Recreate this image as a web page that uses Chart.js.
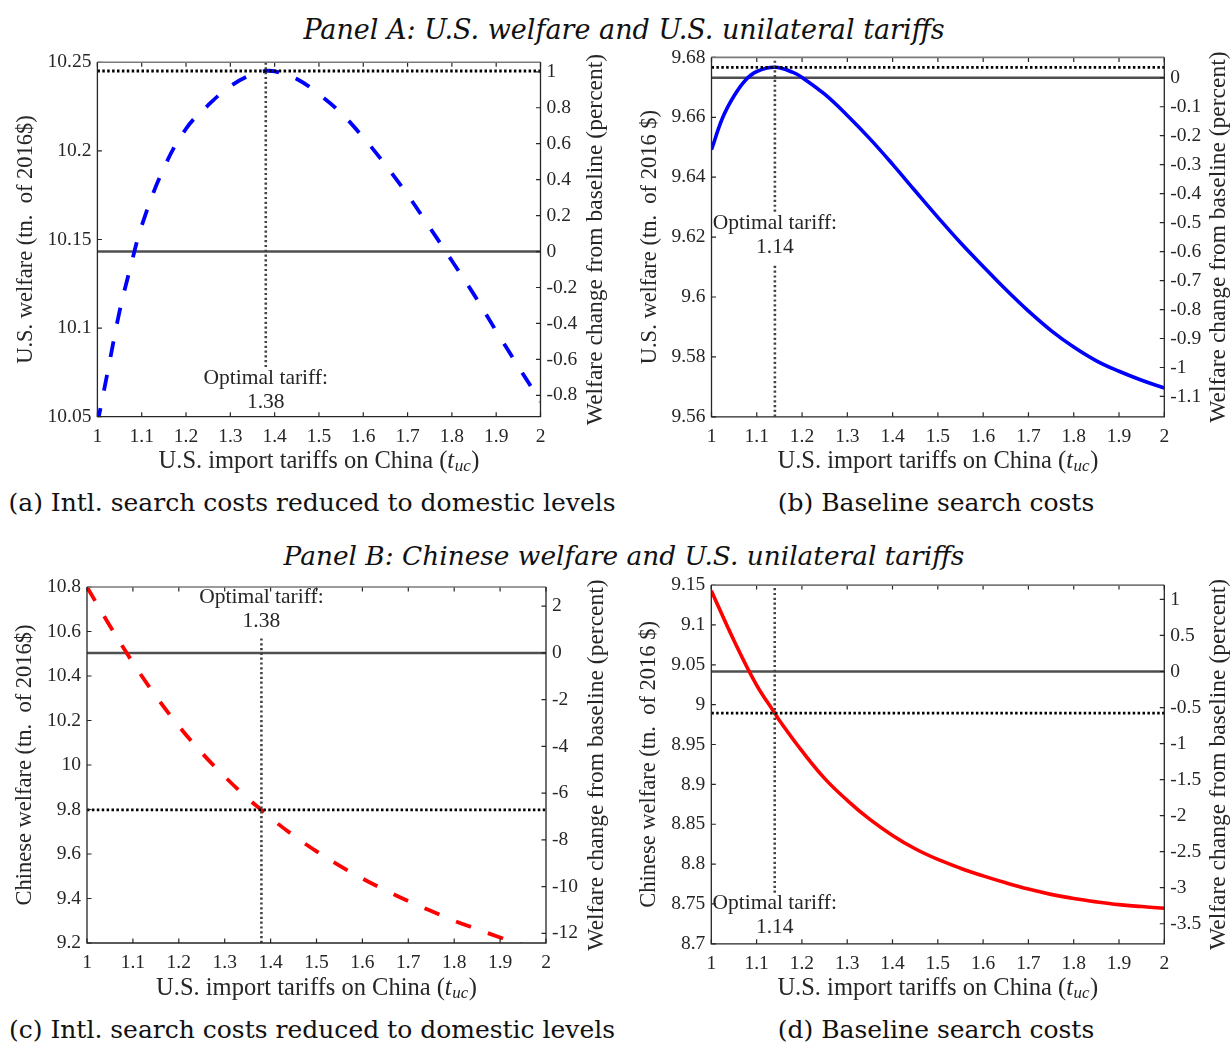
<!DOCTYPE html>
<html>
<head>
<meta charset="utf-8">
<script src="https://cdn.jsdelivr.net/npm/chart.js@4.4.0/dist/chart.umd.min.js"></script>
<style>
  body { margin: 0; background: #fff; width: 1232px; height: 1045px; position: relative; overflow: hidden; }
  .pane { position: absolute; }
  .head { position: absolute; left: 8px; width: 1232px; text-align: center; font-family: "DejaVu Serif", serif;
          font-style: italic; line-height: 30px; color: #111; }
  .cap { position: absolute; width: 624px; text-align: center; font-family: "DejaVu Serif", serif;
         font-size: 25px; line-height: 30px; color: #111; }
</style>
</head>
<body>
<div class="head" style="top:15px;font-size:27px">Panel A: U.S. welfare and U.S. unilateral tariffs</div>
<div class="cap" style="left:0;top:488px">(a) Intl. search costs reduced to domestic levels</div>
<div class="cap" style="left:624px;top:488px">(b) Baseline search costs</div>
<div class="head" style="top:541px;font-size:26.4px">Panel B: Chinese welfare and U.S. unilateral tariffs</div>
<div class="cap" style="left:0;top:1015px">(c) Intl. search costs reduced to domestic levels</div>
<div class="cap" style="left:624px;top:1015px">(d) Baseline search costs</div>

<div class="pane" style="left:0;top:35px"><canvas id="chartA" width="620" height="450"></canvas></div>
<div class="pane" style="left:620px;top:35px"><canvas id="chartB" width="612" height="450"></canvas></div>
<div class="pane" style="left:0;top:560px"><canvas id="chartC" width="620" height="450"></canvas></div>
<div class="pane" style="left:620px;top:560px"><canvas id="chartD" width="612" height="450"></canvas></div>

<script>
// ---- data -------------------------------------------------------------
const xTicks = [1, 1.1, 1.2, 1.3, 1.4, 1.5, 1.6, 1.7, 1.8, 1.9, 2];

// (a) U.S. welfare, intl. search costs at domestic levels
const tariffA = [1.00, 1.025, 1.05, 1.075, 1.10, 1.15, 1.20, 1.25, 1.30, 1.35, 1.38, 1.40,
                 1.45, 1.50, 1.55, 1.60, 1.65, 1.70, 1.75, 1.80, 1.85, 1.90, 1.95, 2.00];
const welfareA = [10.046, 10.0777, 10.1094, 10.1347, 10.1578, 10.1903, 10.2125, 10.2258, 10.2365, 10.2433, 10.2451, 10.2449,
                  10.2406, 10.2320, 10.2213, 10.2076, 10.1921, 10.1752, 10.1568, 10.1380, 10.1189, 10.0983, 10.0783, 10.0585];
const baselineA = 10.1432;
const optimalA = 1.38;
const leftTicksA = [10.05, 10.1, 10.15, 10.2, 10.25];
const rightTicksA = [-0.8, -0.6, -0.4, -0.2, 0, 0.2, 0.4, 0.6, 0.8, 1];

// (b) U.S. welfare, baseline search costs
const tariffB = [1.00, 1.025, 1.05, 1.075, 1.10, 1.14, 1.18, 1.20, 1.25, 1.30, 1.35, 1.40,
                 1.45, 1.50, 1.55, 1.60, 1.65, 1.70, 1.75, 1.80, 1.85, 1.90, 1.95, 2.00];
const welfareB = [9.6492, 9.6600, 9.6672, 9.6724, 9.6753, 9.6767, 9.6750, 9.6733, 9.6677, 9.6606, 9.6528, 9.6443,
                  9.6354, 9.6266, 9.6181, 9.6102, 9.6025, 9.5953, 9.5888, 9.5833, 9.5787, 9.5752, 9.5722, 9.5696];
const baselineB = 9.6732;
const optimalB = 1.14;
const leftTicksB = [9.56, 9.58, 9.6, 9.62, 9.64, 9.66, 9.68];
const rightTicksB = [-1.1, -1, -0.9, -0.8, -0.7, -0.6, -0.5, -0.4, -0.3, -0.2, -0.1, 0];

// (c) Chinese welfare, intl. search costs at domestic levels
const tariffC = [1.00, 1.05, 1.10, 1.15, 1.20, 1.25, 1.30, 1.35, 1.38, 1.40, 1.45,
                 1.50, 1.55, 1.60, 1.65, 1.70, 1.75, 1.80, 1.85, 1.90, 1.95, 2.00];
const welfareC = [10.80, 10.625, 10.46, 10.31, 10.175, 10.055, 9.948, 9.85, 9.798, 9.762, 9.683,
                  9.612, 9.548, 9.49, 9.437, 9.388, 9.344, 9.300, 9.262, 9.225, 9.19, 9.157];
const baselineC = 10.5038;
const optimalC = 1.38;
const leftTicksC = [9.2, 9.4, 9.6, 9.8, 10, 10.2, 10.4, 10.6, 10.8];
const rightTicksC = [-12, -10, -8, -6, -4, -2, 0, 2];

// (d) Chinese welfare, baseline search costs
const tariffD = [1.00, 1.05, 1.10, 1.14, 1.15, 1.20, 1.25, 1.30, 1.35, 1.40, 1.45,
                 1.50, 1.55, 1.60, 1.65, 1.70, 1.75, 1.80, 1.85, 1.90, 1.95, 2.00];
const welfareD = [9.143, 9.0805, 9.0245, 8.9895, 8.9805, 8.9420, 8.9075, 8.8800, 8.8560, 8.8360, 8.8192,
                  8.8058, 8.7948, 8.7852, 8.7765, 8.7686, 8.7620, 8.7568, 8.7526, 8.7491, 8.7467, 8.7446];
const baselineD = 9.0416;
const optimalD = 1.14;
const leftTicksD = [8.7, 8.75, 8.8, 8.85, 8.9, 8.95, 9, 9.05, 9.1, 9.15];
const rightTicksD = [-3.5, -3, -2.5, -2, -1.5, -1, -0.5, 0, 0.5, 1];

// ---- drawing helpers ----------------------------------------------------
const SERIF = '"Liberation Serif", serif';
const INK = '#262626';
Chart.defaults.font.family = SERIF;
Chart.defaults.color = INK;

const fmt = v => String(Math.round(v * 1000) / 1000);
const pts = (xs, ys) => xs.map((x, i) => ({ x: x, y: ys[i] }));

// box, inward tick marks, axis titles and the optimal-tariff note
const framePlugin = {
  id: 'frame',
  afterDraw(chart, args, o) {
    const { ctx, chartArea: a, scales } = chart;
    const tl = 4.5;
    ctx.save();
    ctx.lineWidth = 1.2;
    ctx.strokeStyle = INK;
    ctx.beginPath();
    scales.x.ticks.forEach(t => {
      const px = scales.x.getPixelForValue(t.value);
      ctx.moveTo(px, a.bottom); ctx.lineTo(px, a.bottom - tl);
      ctx.moveTo(px, a.top); ctx.lineTo(px, a.top + tl);
    });
    scales.y.ticks.forEach(t => {
      const py = scales.y.getPixelForValue(t.value);
      ctx.moveTo(a.left, py); ctx.lineTo(a.left + tl, py);
    });
    scales.y2.ticks.forEach(t => {
      const py = scales.y2.getPixelForValue(t.value);
      ctx.moveTo(a.right, py); ctx.lineTo(a.right - tl, py);
    });
    ctx.stroke();
    // top edge gray, left/right axes and bottom dark
    ctx.strokeStyle = '#7a7a7a';
    ctx.lineWidth = 1.6;
    ctx.beginPath();
    ctx.moveTo(a.left, a.top); ctx.lineTo(a.right, a.top);
    ctx.stroke();
    ctx.strokeStyle = INK;
    ctx.lineWidth = 1.3;
    ctx.beginPath();
    ctx.moveTo(a.left, a.top); ctx.lineTo(a.left, a.bottom); ctx.lineTo(a.right, a.bottom); ctx.lineTo(a.right, a.top);
    ctx.stroke();

    ctx.fillStyle = INK;
    // x title with italic subscript
    const cx = (a.left + a.right) / 2, cy = a.bottom + o.xTitleDy;
    const main = 'U.S. import tariffs on China (';
    const big = '24.5px ' + SERIF, bigIt = 'italic 24.5px ' + SERIF, sub = 'italic 17px ' + SERIF;
    ctx.textBaseline = 'middle';
    ctx.font = big;
    const w1 = ctx.measureText(main).width, w4 = ctx.measureText(')').width;
    ctx.font = bigIt;
    const w2 = ctx.measureText('t').width;
    ctx.font = sub;
    const w3 = ctx.measureText('uc').width;
    let x = cx - (w1 + w2 + w3 + w4 + 1) / 2;
    ctx.textAlign = 'left';
    ctx.font = big; ctx.fillText(main, x, cy); x += w1;
    ctx.font = bigIt; ctx.fillText('t', x, cy); x += w2 + 0.5;
    ctx.font = sub; ctx.fillText('uc', x, cy + 5); x += w3 + 0.5;
    ctx.font = big; ctx.fillText(')', x, cy);

    // rotated y titles, both reading bottom to top
    const my = (a.top + a.bottom) / 2;
    ctx.textAlign = 'center';
    [[a.left - o.leftDx, o.leftTitle, 22.5], [a.right + o.rightDx, 'Welfare change from baseline (percent)', 23.5]].forEach(([tx, s, fs]) => {
      ctx.save();
      ctx.font = fs + 'px ' + SERIF;
      ctx.translate(tx, my);
      ctx.rotate(-Math.PI / 2);
      ctx.fillText(s, 0, 0);
      ctx.restore();
    });

    // optimal tariff note, centred on the vertical marker
    const nx = scales.x.getPixelForValue(o.optimal);
    ctx.font = '21.5px ' + SERIF;
    ctx.fillText('Optimal tariff:', nx, a.top + o.noteDy);
    ctx.fillText(fmt(o.optimal), nx, a.top + o.noteDy + 24);
    ctx.restore();
  }
};

function makePanel(id, cfg) {
  const yMin = cfg.leftTicks[0], yMax = cfg.leftTicks[cfg.leftTicks.length - 1];
  const optWelfare = cfg.welfare[cfg.tariff.indexOf(cfg.optimal)];
  const datasets = [
    { data: [{ x: 1, y: cfg.baseline }, { x: 2, y: cfg.baseline }], borderColor: '#4f4f4f', borderWidth: 2.5, order: 3 },
    { data: pts(cfg.tariff, cfg.welfare), borderColor: cfg.color, borderWidth: cfg.dashed ? 3.8 : 3.6,
      borderDash: cfg.dashed ? [16, 18] : [], tension: 0.4, order: 2 },
    { data: [{ x: 1, y: optWelfare }, { x: 2, y: optWelfare }], borderColor: '#000', borderWidth: 2.8,
      borderDash: [2.5, 2.4], order: 1 }
  ];
  cfg.markerSpans.forEach(([lo, hi]) => datasets.push({
    data: [{ x: cfg.optimal, y: lo }, { x: cfg.optimal, y: hi }], borderColor: '#444444', borderWidth: 2.6,
    borderDash: [2.2, 2.6], order: 1
  }));
  datasets.forEach(d => { d.pointRadius = 0; d.fill = false; d.clip = 0; });

  const pct = v => (v / cfg.baseline - 1) * 100;
  const tickFont = { family: SERIF, size: 19.5 };
  return new Chart(document.getElementById(id), {
    type: 'line',
    data: { datasets: datasets },
    options: {
      responsive: false,
      animation: false,
      events: [],
      layout: { padding: { top: cfg.padTop, left: 0, right: 0, bottom: 0 } },
      plugins: {
        legend: { display: false },
        tooltip: { enabled: false },
        frame: { xTitleDy: cfg.xTitleDy, leftDx: cfg.leftDx, rightDx: cfg.rightDx,
                 leftTitle: cfg.leftTitle, optimal: cfg.optimal, noteDy: cfg.noteDy }
      },
      scales: {
        x: {
          type: 'linear', min: 1, max: 2,
          grid: { display: false, drawTicks: false }, border: { display: false },
          ticks: { font: tickFont, padding: 8, autoSkip: false, maxRotation: 0, callback: fmt },
          afterBuildTicks: s => { s.ticks = xTicks.map(v => ({ value: v })); },
          afterFit: s => { s.height = cfg.hX; }
        },
        y: {
          type: 'linear', position: 'left', min: yMin, max: yMax,
          grid: { display: false, drawTicks: false }, border: { display: false },
          ticks: { font: tickFont, padding: 6, callback: fmt },
          afterBuildTicks: s => { s.ticks = cfg.leftTicks.map(v => ({ value: v })); },
          afterFit: s => { s.width = cfg.wLeft; }
        },
        y2: {
          type: 'linear', position: 'right', min: pct(yMin), max: pct(yMax),
          grid: { display: false, drawTicks: false }, border: { display: false },
          ticks: { font: tickFont, padding: 6, callback: fmt },
          afterBuildTicks: s => { s.ticks = cfg.rightTicks.map(v => ({ value: v })); },
          afterFit: s => { s.width = cfg.wRight; }
        }
      }
    },
    plugins: [framePlugin]
  });
}

makePanel('chartA', {
  tariff: tariffA, welfare: welfareA, baseline: baselineA, optimal: optimalA,
  leftTicks: leftTicksA, rightTicks: rightTicksA, color: '#0000ff', dashed: true,
  markerSpans: [[10.078, 10.25]], leftTitle: 'U.S. welfare (tn.  of 2016$)',
  padTop: 27.3, wLeft: 97.4, wRight: 79.5, hX: 68.3,
  xTitleDy: 45, leftDx: 70.9, rightDx: 55.5, noteDy: 316
});
makePanel('chartB', {
  tariff: tariffB, welfare: welfareB, baseline: baselineB, optimal: optimalB,
  leftTicks: leftTicksB, rightTicks: rightTicksB, color: '#0000ff', dashed: false,
  markerSpans: [[9.6285, 9.68], [9.56, 9.6107]], leftTitle: 'U.S. welfare (tn.  of 2016 $)',
  padTop: 22.4, wLeft: 91.5, wRight: 67.7, hX: 68.2,
  xTitleDy: 45, leftDx: 61.5, rightDx: 54.7, noteDy: 166
});
makePanel('chartC', {
  tariff: tariffC, welfare: welfareC, baseline: baselineC, optimal: optimalC,
  leftTicks: leftTicksC, rightTicks: rightTicksC, color: '#ff0000', dashed: true,
  markerSpans: [[9.2, 10.57]], leftTitle: 'Chinese welfare (tn.  of 2016$)',
  padTop: 27, wLeft: 87, wRight: 74, hX: 67,
  xTitleDy: 45.5, leftDx: 61.5, rightDx: 50.5, noteDy: 10
});
makePanel('chartD', {
  tariff: tariffD, welfare: welfareD, baseline: baselineD, optimal: optimalD,
  leftTicks: leftTicksD, rightTicks: rightTicksD, color: '#ff0000', dashed: false,
  markerSpans: [[8.7641, 9.15]], leftTitle: 'Chinese welfare (tn.  of 2016 $)',
  padTop: 25.1, wLeft: 91.3, wRight: 67.7, hX: 66.2,
  xTitleDy: 45, leftDx: 61.8, rightDx: 54.2, noteDy: 318
});
</script>
</body>
</html>
